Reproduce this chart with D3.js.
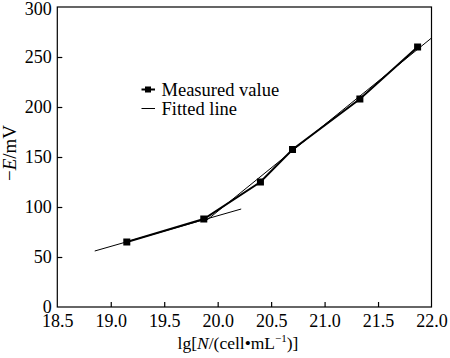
<!DOCTYPE html>
<html><head><meta charset="utf-8">
<script src="https://cdn.jsdelivr.net/npm/d3@7"></script>
<style>body{margin:0;background:#fff}svg{display:block}</style>
</head><body>
<svg id="c" width="450" height="358"></svg>
<script>
const measuredX = [19.15, 19.87, 20.40, 20.70, 21.33, 21.87];
const measuredY = [65, 88, 125, 157.5, 208, 260];
const fit1X = [18.85, 20.22];
const fit1Y = [56, 98];
const fit2X = [19.90, 22.0];
const fit2Y = [87, 269];
const xTicks = [18.5, 19.0, 19.5, 20.0, 20.5, 21.0, 21.5, 22.0];
const yTicks = [0, 50, 100, 150, 200, 250, 300];

const svg = d3.select("#c");
const font = "Liberation Serif";
const m = {l: 57.3, r: 431.5, t: 7, b: 307};
const x = d3.scaleLinear().domain([18.5, 22.0]).range([m.l, m.r]);
const y = d3.scaleLinear().domain([0, 300]).range([m.b, m.t]);

// frame
svg.append("rect").attr("x", m.l).attr("y", m.t).attr("width", m.r - m.l).attr("height", m.b - m.t)
  .attr("fill", "none").attr("stroke", "#000").attr("stroke-width", 1.2);

const xAxis = svg.append("g").attr("transform", `translate(0,${m.b})`)
  .call(d3.axisBottom(x).tickValues(xTicks).tickFormat(d3.format(".1f")).tickSizeInner(-5).tickSizeOuter(0).tickPadding(7));
const yAxis = svg.append("g").attr("transform", `translate(${m.l},0)`)
  .call(d3.axisLeft(y).tickValues(yTicks).tickFormat(d3.format("d")).tickSizeInner(-5).tickSizeOuter(0).tickPadding(5.5));
[xAxis, yAxis].forEach(g => {
  g.attr("font-family", font).attr("font-size", 18);
  g.select(".domain").remove();
  g.selectAll("line").attr("stroke", "#000").attr("stroke-width", 1.2);
  g.selectAll("text").attr("fill", "#000");
});
xAxis.selectAll(".tick").filter(d => d === 18.5 || d === 22.0).select("line").remove();
yAxis.selectAll(".tick").filter(d => d === 0 || d === 300).select("line").remove();
yAxis.selectAll(".tick").filter(d => d === 300).select("text").attr("dy", "0.4em");

// fitted lines
const line = d3.line().x(d => x(d[0])).y(d => y(d[1]));
svg.append("path").attr("d", line(d3.zip(fit1X, fit1Y))).attr("stroke", "#000").attr("stroke-width", 1).attr("fill", "none");
svg.append("path").attr("d", line(d3.zip(fit2X, fit2Y))).attr("stroke", "#000").attr("stroke-width", 1).attr("fill", "none");

// measured
const mdata = d3.zip(measuredX, measuredY);
svg.append("path").attr("d", line(mdata)).attr("stroke", "#000").attr("stroke-width", 2).attr("fill", "none");
svg.selectAll("rect.pt").data(mdata).enter().append("rect").attr("class", "pt")
  .attr("x", d => x(d[0]) - 3.5).attr("y", d => y(d[1]) - 3.5).attr("width", 7).attr("height", 7).attr("fill", "#000");

// legend
const lg = svg.append("g").attr("font-family", font).attr("font-size", 18.5);
lg.append("line").attr("x1", 141.5).attr("x2", 155).attr("y1", 89.5).attr("y2", 89.5).attr("stroke", "#000").attr("stroke-width", 2);
lg.append("rect").attr("x", 145).attr("y", 86.5).attr("width", 6).attr("height", 6).attr("fill", "#000");
lg.append("text").attr("x", 161.5).attr("y", 95.5).text("Measured value");
lg.append("line").attr("x1", 141.5).attr("x2", 155).attr("y1", 108.5).attr("y2", 108.5).attr("stroke", "#000").attr("stroke-width", 1);
lg.append("text").attr("x", 161.5).attr("y", 114.5).text("Fitted line");

// axis titles
const xt = svg.append("text").attr("x", 238).attr("y", 349).attr("text-anchor", "middle")
  .attr("font-family", font).attr("font-size", 17.5);
xt.append("tspan").text("lg[");
xt.append("tspan").attr("font-style", "italic").text("N");
xt.append("tspan").text("/(cell\u2022mL");
xt.append("tspan").attr("font-size", 11).attr("dy", -7).text("\u22121");
xt.append("tspan").attr("dy", 7).text(")]");

const yt = svg.append("text").attr("transform", "translate(16,153) rotate(-90)").attr("text-anchor", "middle")
  .attr("font-family", font).attr("font-size", 19);
yt.append("tspan").text("\u2212");
yt.append("tspan").attr("font-style", "italic").text("E");
yt.append("tspan").text("/mV");
</script>
</body></html>
